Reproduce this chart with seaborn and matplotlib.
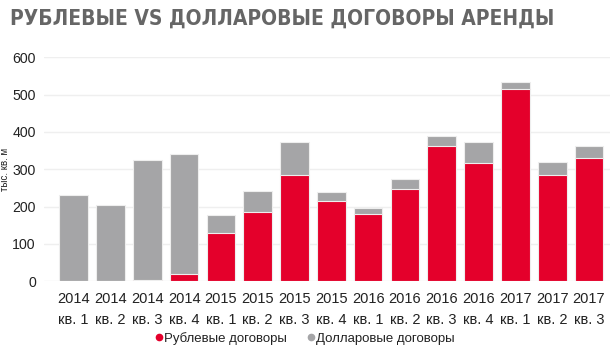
import matplotlib
matplotlib.use("Agg")
import matplotlib.pyplot as plt
from matplotlib.lines import Line2D
import seaborn as sns
import pandas as pd

quarters = ["2014\nкв. 1", "2014\nкв. 2", "2014\nкв. 3", "2014\nкв. 4",
            "2015\nкв. 1", "2015\nкв. 2", "2015\nкв. 3", "2015\nкв. 4",
            "2016\nкв. 1", "2016\nкв. 2", "2016\nкв. 3", "2016\nкв. 4",
            "2017\nкв. 1", "2017\nкв. 2", "2017\nкв. 3"]
ruble = [0, 0, 2, 18, 129, 185, 284, 214, 181, 248, 362, 317, 515, 284, 329]
dollar = [232, 205, 322, 324, 47, 56, 89, 24, 14, 26, 27, 57, 19, 36, 33]
yticks = [0, 100, 200, 300, 400, 500, 600]

RED = "#E4002B"
GRAY = "#A5A5A7"

sns.set_theme(style="white")
plt.rcParams["font.family"] = ["Liberation Sans", "DejaVu Sans"]

df = pd.DataFrame({"q": quarters, "ruble": ruble, "dollar": dollar})
df["total"] = df["ruble"] + df["dollar"]

fig = plt.figure(figsize=(6.14, 3.5), dpi=100)
ax = fig.add_axes([0.072, 0.197, 0.922, 0.639])

sns.barplot(data=df, x="q", y="total", color=GRAY, width=0.78, ax=ax,
            edgecolor="#EEEEEE", linewidth=0.8, saturation=1)
sns.barplot(data=df, x="q", y="ruble", color=RED, width=0.78, ax=ax,
            edgecolor="#EEEEEE", linewidth=0.8, saturation=1)

ax.set_xlim(-0.8, 14.58)
ax.set_ylim(0, 600)
ax.set_yticks(yticks)
ax.set_yticklabels([str(v) for v in yticks])
ax.yaxis.grid(True, color="#EFEFEF", linewidth=1)
ax.set_axisbelow(True)
for s in ax.spines.values():
    s.set_visible(False)
ax.tick_params(axis="x", length=0, labelsize=10.5, colors="#222222", pad=8)
ax.tick_params(axis="y", length=0, labelsize=10.2, colors="#222222", pad=6)
for lab in ax.get_xticklabels():
    lab.set_linespacing(1.6)
ax.set_xlabel("")
ax.set_ylabel("тыс. кв. м", fontsize=7, color="#222222", labelpad=2)
ax.yaxis.set_label_coords(-0.06, 0.5)

fig.text(0.016, 0.948, "РУБЛЕВЫЕ VS ДОЛЛАРОВЫЕ ДОГОВОРЫ АРЕНДЫ",
         fontsize=15, fontweight="bold", fontstretch="condensed",
         family=["DejaVu Sans"], color="#666666", va="center", ha="left")

handles = [Line2D([], [], marker="o", linestyle="", color=RED, markersize=4.5),
           Line2D([], [], marker="o", linestyle="", color=GRAY, markersize=4.5)]
fig.legend(handles, ["Рублевые договоры", "Долларовые договоры"],
           loc="center", bbox_to_anchor=(0.495, 0.033), ncol=2, frameon=False,
           fontsize=9.5, handletextpad=0.0, columnspacing=1.4, handlelength=0.8,
           labelcolor="#222222")

fig.savefig("out.png", dpi=100)
